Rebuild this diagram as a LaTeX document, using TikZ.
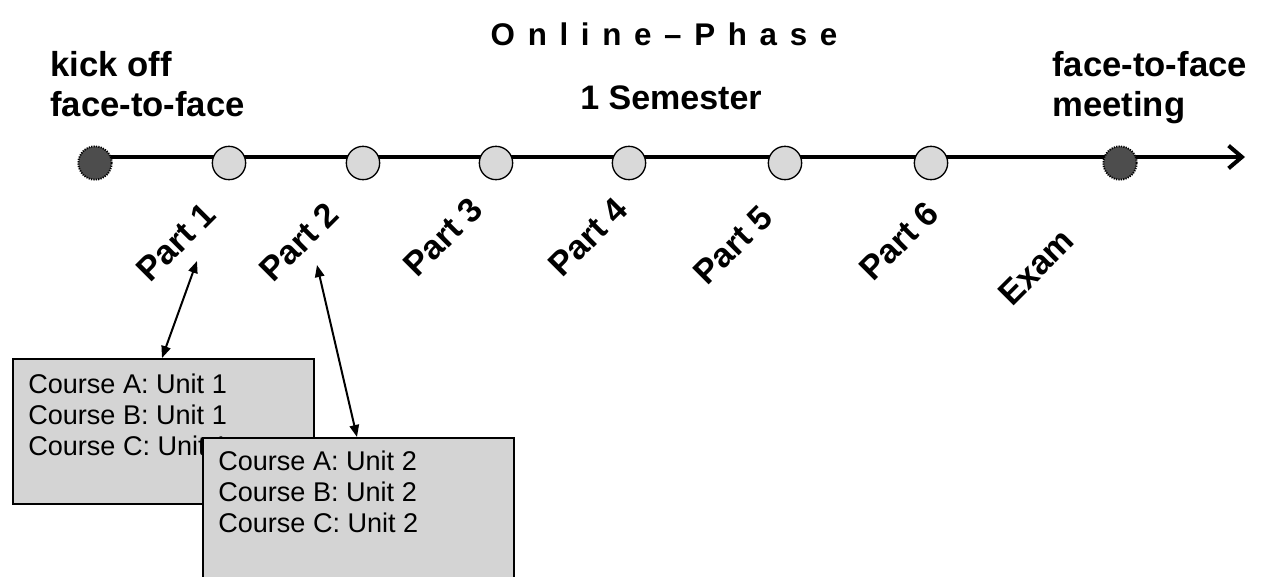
\documentclass[tikz,border=0pt]{standalone}
\usepackage{fontspec}
\setmainfont{Liberation Sans}
\usetikzlibrary{arrows.meta,positioning}

\definecolor{lightdot}{HTML}{D9D9D9}
\definecolor{darkdot}{HTML}{4D4D4D}
\definecolor{boxfill}{HTML}{D4D4D4}

\tikzset{
  partdot/.style={circle,draw,line width=1pt,fill=lightdot,minimum size=25pt,inner sep=0pt},
  meetdot/.style={circle,draw,line width=1.4pt,dash pattern=on 0.9pt off 0.9pt,fill=darkdot,minimum size=25pt,inner sep=0pt},
  headtext/.style={font=\fontsize{26}{30}\selectfont\bfseries,align=left,inner sep=0pt},
  partlabel/.style={font=\fontsize{25.5}{30}\selectfont\bfseries,rotate=45,inner sep=0pt},
  coursebox/.style={draw,line width=1.5pt,fill=boxfill,inner sep=0pt},
  unittext/.style={font=\fontsize{20.3}{23.25}\selectfont,align=left,inner sep=0pt},
  link/.style={{Triangle[length=9pt,width=7pt]}-{Triangle[length=9pt,width=7pt]},line width=1.5pt}
}

\begin{document}
\begin{tikzpicture}[x=0.75pt,y=-0.75pt]
\clip (0,0) rectangle (1261,576);
% time line
\coordinate (start) at (95,157);
\coordinate (tip) at (1245,157);
\draw [line width=3pt,-{Straight Barb[length=10pt,width=17pt]}] (start) -- (tip);
\node [meetdot] (kickoff) at (95,163) {};
\node [partdot] (p1) at (229,163) {};
\node [partdot] (p2) at (363,163) {};
\node [partdot] (p3) at (496,163) {};
\node [partdot] (p4) at (629,163) {};
\node [partdot] (p5) at (785,163) {};
\node [partdot] (p6) at (931,163) {};
\node [meetdot] (meeting) at (1120,163) {};
% headings
\node [headtext,anchor=north west] (kicktext) at (50,51) {kick off\\face-to-face};
\node [headtext,anchor=north west] (meettext) at (1052,51) {face-to-face\\meeting};
\node [font=\fontsize{23.5}{27}\selectfont\bfseries,inner sep=0pt] (phase) at (664,34) {\spaceskip=9.5pt O n l i n e – P h a s e};
\node [font=\fontsize{25.5}{30}\selectfont\bfseries,inner sep=0pt] (semester) at (671,98) {1 Semester};
% parts
\node [partlabel] (part1) at (176,242) {Part 1};
\node [partlabel] (part2) at (299,242) {Part 2};
\node [partlabel] (part3) at (443,237) {Part 3};
\node [partlabel] (part4) at (588,237) {Part 4};
\node [partlabel] (part5) at (733,245) {Part 5};
\node [partlabel] (part6) at (899,241) {Part 6};
\node [partlabel] (exam) at (1036,267) {Exam};
% course boxes
\node [coursebox,anchor=north west,minimum width=225.75pt,minimum height=108.75pt] (box1) at (12,358) {};
\node [unittext,below right=11.6pt and 12pt of box1.north west] (units1) {Course A: Unit 1\\Course B: Unit 1\\Course C: Unit 1};
\node [coursebox,anchor=north west,minimum width=233.25pt,minimum height=114.75pt] (box2) at (202,437) {};
\node [unittext,below right=10pt and 12pt of box2.north west] (units2) {Course A: Unit 2\\Course B: Unit 2\\Course C: Unit 2};
% links
\coordinate (end1) at (197,261);
\coordinate (end2) at (317,265);
\draw [link] (box1.north west) ++(112.5pt,0) -- (end1);
\draw [link] (end2) -- ([xshift=116.25pt]box2.north west);
\end{tikzpicture}
\end{document}
